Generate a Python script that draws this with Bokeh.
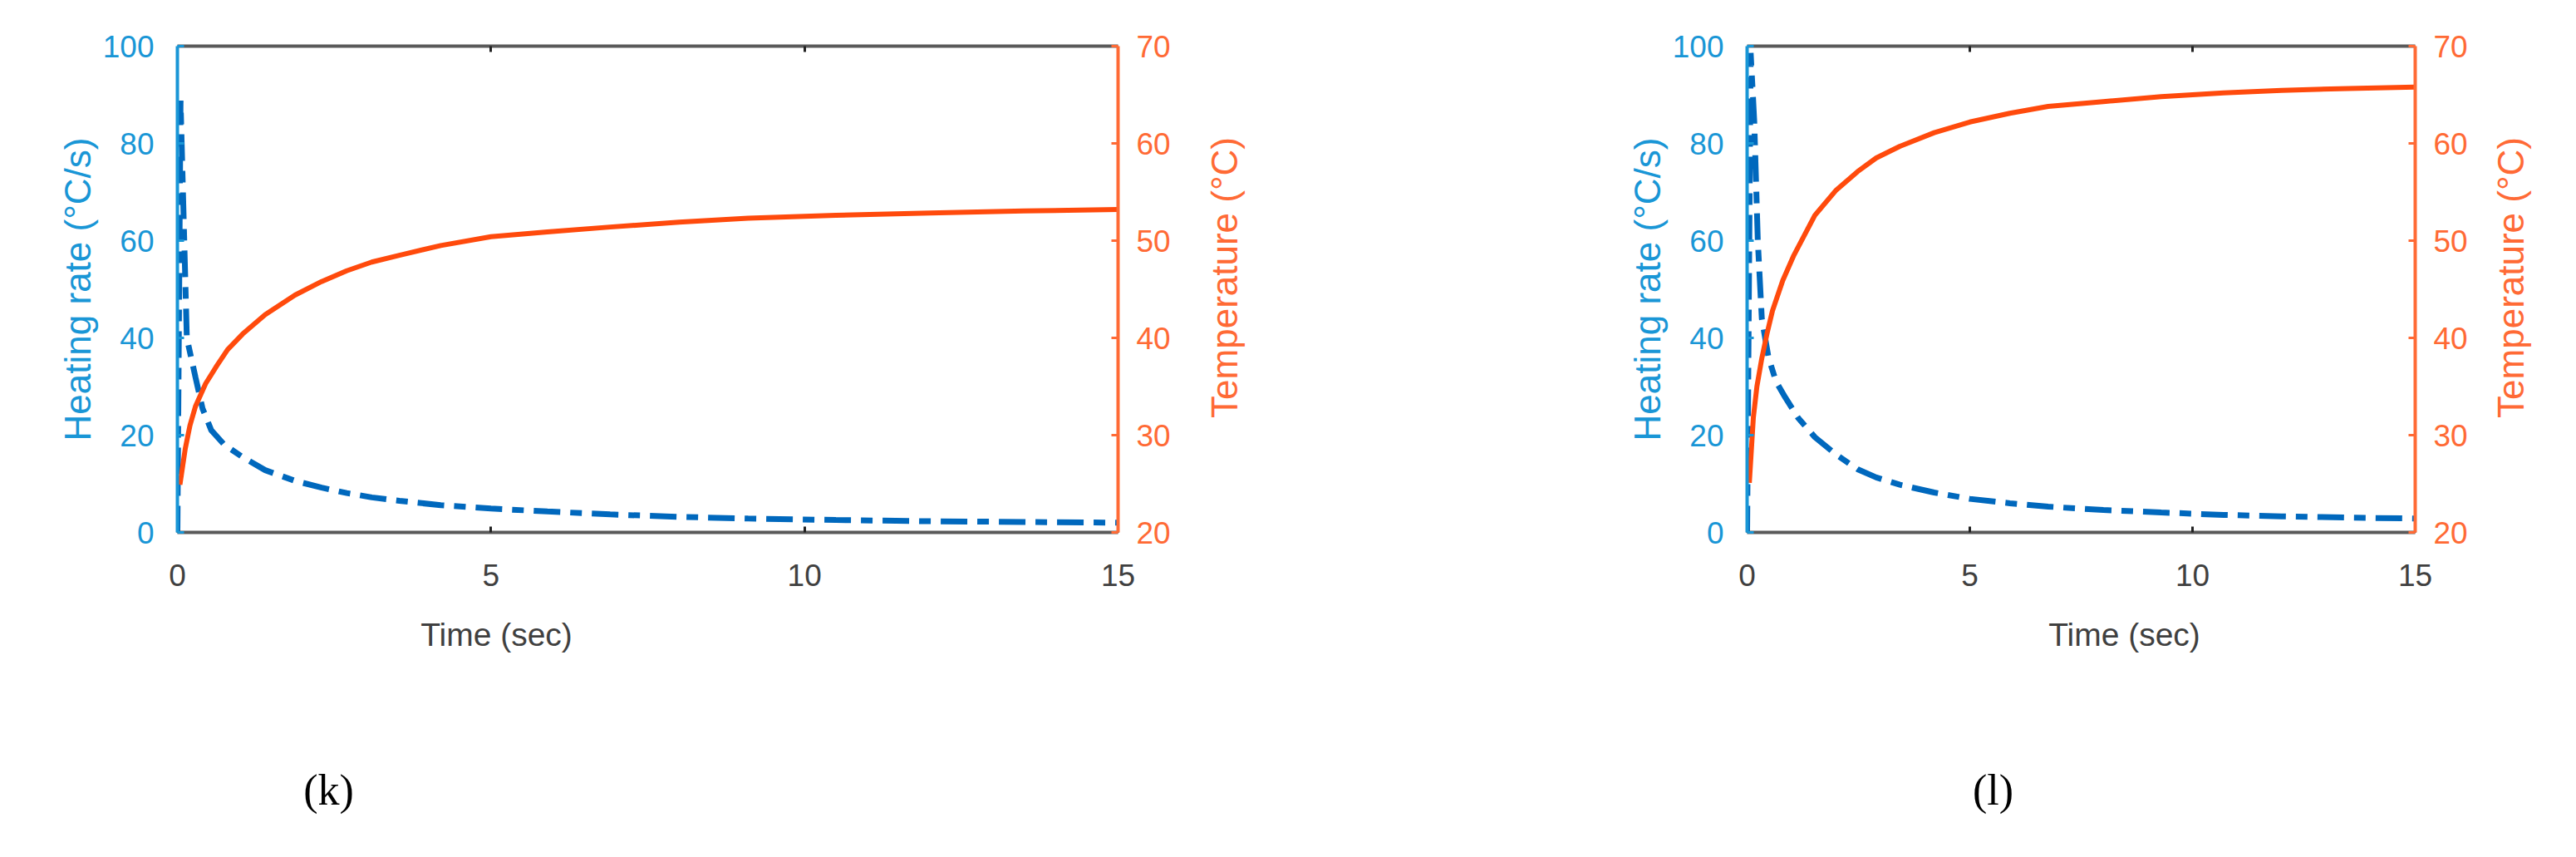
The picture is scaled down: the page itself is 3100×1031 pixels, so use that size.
import math
from bokeh.plotting import figure
from bokeh.models import Range1d, LinearAxis, FixedTicker
from bokeh.layouts import row, column
from bokeh.core.properties import value
from bokeh.embed import file_html
from bokeh.resources import INLINE

# ---------------- data ----------------
x_ticks = [0, 5, 10, 15]
hr_ticks = [0, 20, 40, 60, 80, 100]
temp_ticks = [20, 30, 40, 50, 60, 70]
x_title = "Time (sec)"
hr_title = "Heating rate (°C/s)"
temp_title = "Temperature (°C)"
panel_tags = ["(k)", "(l)"]

# panel (k)
t_hr_k = [0, 0.05, 0.15, 0.29, 0.4, 0.54, 0.75, 1.04, 1.4, 1.875, 2.3, 2.7, 3.1, 3.54, 4.2, 5.0,
          5.9, 6.9, 8.0, 9.1, 10.5, 12.0, 13.5, 15.0]
hr_k = [0, 88.8, 40.0, 31.8, 25.5, 21.0, 18.0, 15.5, 12.8, 10.6, 9.2, 8.1, 7.2, 6.5, 5.6, 4.9,
        4.3, 3.7, 3.2, 2.85, 2.55, 2.3, 2.15, 2.0]
t_temp_k = [0.04, 0.125, 0.2, 0.29, 0.45, 0.625, 0.8, 1.04, 1.4, 1.875, 2.3, 2.7, 3.1, 3.54, 4.2,
            5.0, 5.9, 6.9, 8.0, 9.1, 10.5, 12.0, 13.5, 15.0]
temp_k = [24.9, 28.6, 31.0, 33.0, 35.3, 37.1, 38.8, 40.4, 42.4, 44.4, 45.8, 46.9, 47.8, 48.5, 49.5,
          50.4, 50.9, 51.4, 51.9, 52.3, 52.6, 52.85, 53.05, 53.2]

# panel (l)
t_hr_l = [0, 0.08, 0.16, 0.24, 0.33, 0.48, 0.65, 0.86, 1.15, 1.52, 2.0, 2.48, 2.9, 3.43, 4.2, 5.0,
          5.9, 6.76, 8.0, 9.3, 10.7, 12.0, 13.5, 15.0]
hr_l = [0, 98.6, 84.6, 60.0, 44.0, 36.0, 31.0, 27.7, 23.5, 19.6, 16.0, 13.0, 11.3, 9.8, 8.2, 6.9,
        6.0, 5.3, 4.6, 4.1, 3.6, 3.3, 3.05, 2.85]
t_temp_l = [0.05, 0.14, 0.22, 0.33, 0.45, 0.57, 0.8, 1.05, 1.52, 2.0, 2.48, 2.9, 3.43, 4.2, 5.0,
            5.9, 6.76, 8.0, 9.3, 10.7, 12.0, 13.5, 15.0]
temp_l = [25.1, 31.8, 35.0, 37.9, 40.5, 42.8, 45.9, 48.5, 52.6, 55.2, 57.1, 58.5, 59.7, 61.1, 62.2,
          63.1, 63.8, 64.3, 64.8, 65.2, 65.45, 65.65, 65.8]

# ---------------- style ----------------
BLUE_AX = "#1996d6"
BLUE_LN = "#0068bd"
ORANGE_AX = "#ff6a35"
ORANGE_LN = "#ff4a0c"
GRAY_AX = "#5a5a5a"
TXT_GRAY = "#404040"
SANS = "Liberation Sans"
SERIF = "Liberation Serif"
TICK_FS = "37px"
YLAB_FS = "44px"
XLAB_FS = "39px"

HT = 730     # height of the plot row
HB = 282     # height of the caption row
FT = 55      # frame top
FH = 585     # frame height
RB = 80      # space right of frame for the right tick labels


def bare(width, height):
    f = figure(width=width, height=height, x_range=Range1d(0, width), y_range=Range1d(0, height),
               output_backend="svg", toolbar_location=None,
               x_axis_location=None, y_axis_location=None,
               min_border_left=0, min_border_right=0, min_border_top=0, min_border_bottom=0)
    f.grid.visible = False
    f.outline_line_color = None
    return f


def style_axis(ax, color, lab_color):
    ax.axis_line_color = color
    ax.axis_line_width = 4
    ax.major_tick_line_color = color
    ax.major_tick_line_width = 3
    ax.major_tick_in = 8
    ax.major_tick_out = 0
    ax.minor_tick_line_color = None
    ax.major_label_text_font = SANS
    ax.major_label_text_font_size = TICK_FS
    ax.major_label_text_color = lab_color
    ax.axis_label_text_font = SANS
    ax.axis_label_text_font_size = YLAB_FS
    ax.axis_label_text_font_style = "normal"
    ax.axis_label_text_color = lab_color


def make_panel(bl, fw, t_hr, hr, t_temp, temp):
    width = bl + fw + RB
    p = figure(width=width, height=HT, x_range=Range1d(0, 15), y_range=Range1d(0, 100),
               output_backend="svg", toolbar_location=None,
               min_border_left=bl, min_border_right=RB,
               min_border_top=FT, min_border_bottom=HT - FT - FH)
    p.extra_y_ranges = {"temp": Range1d(20, 70)}
    p.grid.visible = False
    p.outline_line_color = None

    xa = p.xaxis[0]
    xa.ticker = FixedTicker(ticks=x_ticks)
    style_axis(xa, GRAY_AX, TXT_GRAY)
    xa.major_tick_line_color = "#222222"
    xa.major_tick_in = 7
    xa.major_label_standoff = 38

    ta = LinearAxis(ticker=FixedTicker(ticks=[5, 10]), major_label_overrides={5: "", 10: ""})
    style_axis(ta, GRAY_AX, TXT_GRAY)
    ta.major_tick_line_color = "#222222"
    ta.major_tick_in = 7
    ta.major_label_standoff = 0
    ta.major_label_text_font_size = "1px"
    p.add_layout(ta, "above")

    ya = p.yaxis[0]
    ya.ticker = FixedTicker(ticks=hr_ticks)
    style_axis(ya, BLUE_AX, BLUE_AX)
    ya.major_label_standoff = 28
    ya.axis_label = hr_title
    ya.axis_label_standoff = 3

    ra = LinearAxis(y_range_name="temp", ticker=FixedTicker(ticks=temp_ticks))
    style_axis(ra, ORANGE_AX, ORANGE_AX)
    ra.major_label_standoff = 22
    p.add_layout(ra, "right")

    p.line(t_hr, hr, line_color=BLUE_LN, line_width=7, line_dash="32 12 14 12")
    p.line(t_temp, temp, line_color=ORANGE_LN, line_width=6, y_range_name="temp")
    return p


def make_right_title(width, x_center):
    t = bare(width, HT)
    t.text(x=[x_center], y=[HT - FT - FH / 2], text=[temp_title], angle=math.pi / 2,
           text_font=value(SANS), text_font_size=value(YLAB_FS), text_color=ORANGE_AX,
           text_align="center", text_baseline="middle")
    return t


def make_caption(width, x_time, x_tag, tag):
    c = bare(width, HB)
    c.text(x=[x_time], y=[HB - 33], text=[x_title], text_font=value(SANS),
           text_font_size=value(XLAB_FS), text_color=TXT_GRAY,
           text_align="center", text_baseline="middle")
    c.text(x=[x_tag], y=[HB - 220], text=[tag], text_font=value(SERIF),
           text_font_size=value("52px"), text_color="black",
           text_align="center", text_baseline="middle")
    return c


W1, W2 = 1600, 1484
p1 = make_panel(213, 1132, t_hr_k, hr_k, t_temp_k, temp_k)
w_p1 = 213 + 1132 + RB
t1 = make_right_title(W1 - w_p1, 1473 - w_p1)
p2 = make_panel(502, 804, t_hr_l, hr_l, t_temp_l, temp_l)
w_p2 = 502 + 804 + RB
t2 = make_right_title(W2 - w_p2, 3021 - W1 - w_p2)
c1 = make_caption(W1, 597, 395, panel_tags[0])
c2 = make_caption(W2, 2556 - W1, 2398 - W1, panel_tags[1])

layout = column(row(p1, t1, p2, t2), row(c1, c2))
open("out.html", "w").write(file_html(layout, INLINE))
